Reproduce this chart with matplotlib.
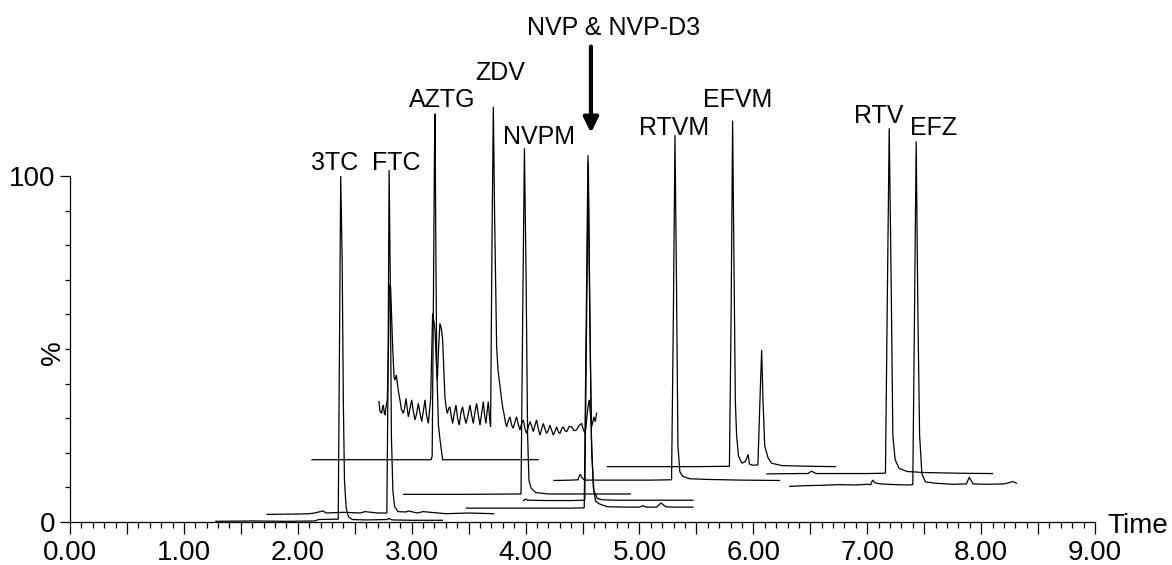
import matplotlib
matplotlib.use("Agg")
import matplotlib.pyplot as plt
from matplotlib.ticker import MultipleLocator, FixedLocator, FuncFormatter

plt.rcParams['font.family'] = ['Liberation Sans', 'DejaVu Sans']

# ---------------- data (time in min, intensity in %) ----------------
t_3tc = [1.28, 1.60, 1.90, 2.15, 2.18, 2.30, 2.355, 2.366, 2.377, 2.390, 2.400, 2.410,
         2.425, 2.445, 2.48, 2.60, 2.78, 2.80, 2.83, 3.00, 3.27]
y_3tc = [0.2, 0.3, 0.2, 0.3, 0.7, 0.8, 0.8, 50, 100, 75, 35, 12,
         4, 1.5, 0.7, 0.6, 0.7, 1.0, 0.6, 0.5, 0.5]

t_ftc = [1.73, 2.00, 2.10, 2.15, 2.22, 2.25, 2.40, 2.55, 2.59, 2.70, 2.782, 2.792, 2.802,
         2.812, 2.822, 2.835, 2.85, 2.88, 2.95, 2.97, 3.05, 3.10, 3.30, 3.50, 3.72]
y_ftc = [2.2, 2.3, 2.4, 2.6, 3.2, 2.6, 2.8, 2.6, 3.0, 2.6, 2.6, 40, 101.7,
         70, 25, 9, 4.5, 3.0, 2.9, 3.2, 2.6, 3.0, 2.4, 2.6, 2.4]

t_aztg = [2.125, 3.170, 3.180, 3.190, 3.200, 3.205, 3.212, 3.220, 3.235, 3.250, 3.262, 3.272, 4.11]
y_aztg = [18.0, 18.0, 19.0, 60, 106, 118, 80, 45, 28, 23.5, 20.5, 18.0, 18.0]

t_zdv = [2.713, 2.722, 2.736, 2.744, 2.751, 2.760, 2.766, 2.776, 2.786, 2.796, 2.804, 2.815,
         2.825, 2.833, 2.845, 2.853, 2.865, 2.874, 2.885, 2.897, 2.910, 2.927, 2.938, 2.950,
         2.960, 2.971, 2.985, 3.000, 3.012, 3.029, 3.043, 3.058, 3.070, 3.088, 3.100, 3.117,
         3.130, 3.146, 3.156, 3.167, 3.184, 3.195, 3.205, 3.215, 3.225, 3.236, 3.248, 3.260,
         3.272, 3.282, 3.292, 3.303, 3.313, 3.325, 3.336, 3.348, 3.360, 3.372, 3.389, 3.403,
         3.418, 3.432, 3.447, 3.462, 3.477, 3.495, 3.512, 3.527, 3.541, 3.556, 3.570, 3.585,
         3.600, 3.615, 3.629, 3.640, 3.652, 3.663, 3.673, 3.684, 3.693, 3.705, 3.717, 3.728,
         3.746, 3.758, 3.769, 3.780, 3.790, 3.800, 3.810, 3.822, 3.834, 3.848, 3.863, 3.878,
         3.892, 3.906, 3.921, 3.936, 3.951, 3.965, 3.980, 3.995, 4.009, 4.024, 4.039, 4.053,
         4.068, 4.082, 4.097, 4.112, 4.126, 4.141, 4.156, 4.170, 4.185, 4.200, 4.214, 4.230,
         4.244, 4.258, 4.273, 4.288, 4.302, 4.317, 4.331, 4.346, 4.361, 4.383, 4.405, 4.426,
         4.448, 4.470, 4.492, 4.507, 4.522, 4.532, 4.542, 4.551, 4.560, 4.570, 4.580, 4.590,
         4.600, 4.612, 4.624]
y_zdv = [34.8, 32.0, 31.4, 33.0, 33.8, 31.5, 30.9, 33.5, 35.3, 50.0, 68.5, 68.0,
         58.0, 50.7, 42.0, 41.0, 42.5, 40.1, 37.5, 35.3, 32.5, 31.4, 33.0, 35.7,
         33.0, 30.4, 32.8, 35.3, 32.5, 29.5, 31.2, 34.3, 32.0, 29.0, 31.5, 35.3,
         31.0, 28.5, 31.8, 35.7, 60.3, 58.0, 55.5, 47.0, 41.0, 50.0, 57.4, 56.0,
         52.6, 44.0, 36.2, 33.0, 31.4, 32.8, 33.3, 30.5, 28.5, 31.0, 33.8, 30.0,
         28.0, 31.5, 33.3, 30.5, 28.5, 31.0, 33.8, 30.8, 28.5, 31.8, 34.3, 31.0,
         28.0, 31.5, 34.8, 31.0, 28.5, 32.0, 34.8, 30.0, 27.5, 79.6, 120.0, 89.2,
         50.7, 44.0, 41.0, 38.0, 35.3, 33.0, 31.4, 29.0, 27.5, 29.2, 30.4, 28.0,
         27.1, 28.8, 30.4, 28.2, 26.6, 28.5, 29.5, 27.0, 25.6, 27.5, 29.0, 27.8,
         26.1, 27.9, 29.5, 27.0, 25.1, 26.8, 28.5, 26.9, 25.6, 26.5, 28.0, 26.4,
         25.1, 26.2, 27.5, 26.0, 25.6, 26.9, 27.5, 26.4, 26.1, 27.6, 27.5, 26.4,
         26.6, 27.9, 28.5, 26.8, 25.6, 28.0, 31.4, 34.0, 35.3, 31.0, 27.5, 28.8,
         30.4, 29.0, 31.4]

t_nvpm = [2.93, 3.50, 3.960, 3.975, 3.990, 4.005, 4.018, 4.030, 4.05, 4.09, 4.20, 4.92]
y_nvpm = [8.0, 8.0, 8.1, 60, 108, 70, 25, 12, 9.7, 8.5, 8.1, 8.1]

t_nvp = [3.98, 4.00, 4.02, 4.20, 4.40, 4.52, 4.535, 4.551, 4.565, 4.58, 4.60, 4.63,
         4.68, 4.80, 5.00, 5.20, 5.47]
y_nvp = [6.2, 6.6, 6.3, 6.2, 6.2, 6.3, 55, 104, 60, 20, 9, 6.8,
         6.4, 6.3, 6.3, 6.3, 6.3]

t_nvpd3 = [3.48, 3.80, 4.10, 4.40, 4.515, 4.530, 4.548, 4.562, 4.578, 4.595, 4.615, 4.65,
           4.72, 4.90, 5.00, 5.03, 5.06, 5.15, 5.19, 5.23, 5.30, 5.47]
y_nvpd3 = [4.0, 4.0, 4.0, 4.0, 4.1, 50, 106, 65, 25, 10, 6.0, 5.2,
           4.4, 4.3, 4.3, 4.7, 4.3, 4.3, 5.5, 4.4, 4.3, 4.3]

t_rtvm = [4.25, 4.40, 4.46, 4.478, 4.50, 4.52, 4.80, 5.10, 5.282, 5.298, 5.312, 5.325,
          5.338, 5.355, 5.38, 5.44, 5.60, 5.90, 6.23]
y_rtvm = [12.0, 12.1, 12.2, 13.8, 12.6, 12.1, 12.1, 12.1, 12.2, 60, 111.8, 70,
          22, 14.5, 13.2, 12.5, 12.3, 12.1, 12.0]

t_efvm = [4.72, 5.00, 5.50, 5.790, 5.805, 5.818, 5.830, 5.842, 5.853, 5.87, 5.90, 5.93,
          5.955, 5.965, 5.99, 6.04, 6.058, 6.073, 6.085, 6.10, 6.13, 6.16, 6.25, 6.50, 6.72]
y_efvm = [16.0, 16.0, 16.0, 16.1, 60, 116, 75, 35, 25, 19, 17.0, 17.5,
          19.5, 16.8, 16.4, 16.5, 35, 49.7, 35, 22, 18.5, 17.0, 16.3, 16.1, 16.0]

t_rtv = [6.12, 6.40, 6.48, 6.51, 6.55, 6.80, 7.00, 7.16, 7.175, 7.193, 7.210, 7.225,
         7.245, 7.28, 7.35, 7.50, 7.80, 8.10]
y_rtv = [13.9, 14.0, 14.0, 14.7, 14.0, 14.0, 14.0, 14.1, 60, 113.8, 70, 25,
         18, 15.5, 14.6, 14.3, 14.1, 14.0]

t_efz = [6.32, 6.45, 6.60, 6.75, 6.90, 7.00, 7.03, 7.047, 7.07, 7.12, 7.25, 7.35, 7.40,
         7.412, 7.43, 7.445, 7.46, 7.48, 7.51, 7.60, 7.75, 7.87, 7.896, 7.93, 8.05, 8.20,
         8.28, 8.31]
y_efz = [10.3, 10.5, 10.6, 10.8, 10.7, 10.9, 10.8, 12.1, 11.3, 11.0, 10.8, 10.7, 10.8,
         50, 110, 60, 25, 14, 11.6, 11.2, 10.9, 11.0, 12.9, 11.0, 10.9, 11.0, 11.7, 11.2]

peak_labels = ["3TC", "FTC", "AZTG", "ZDV", "NVPM", "RTVM", "EFVM", "RTV", "EFZ"]
arrow_label = "NVP & NVP-D3"
x_ticks = [0, 1, 2, 3, 4, 5, 6, 7, 8, 9]
y_ticks = [0, 100]
y_minor = [10, 20, 30, 40, 50, 60, 70, 80, 90]

# ---------------- figure ----------------
W, H = 1172, 565
fig = plt.figure(figsize=(W / 100, H / 100), dpi=100)
x0_px, x9_px, y0_px, y100_px = 70, 1095, 522, 176
ppu = (y0_px - y100_px) / 100.0
ax = fig.add_axes([x0_px / W, (H - y0_px) / H, (x9_px - x0_px) / W, y0_px / H])
ax.set_xlim(0, 9)
ax.set_ylim(0, y0_px / ppu)

traces = [(t_3tc, y_3tc), (t_ftc, y_ftc), (t_aztg, y_aztg), (t_zdv, y_zdv),
          (t_nvpm, y_nvpm), (t_nvp, y_nvp), (t_nvpd3, y_nvpd3), (t_rtvm, y_rtvm),
          (t_efvm, y_efvm), (t_rtv, y_rtv), (t_efz, y_efz)]
for tt, yy in traces:
    ax.plot(tt, yy, color='black', lw=0.9, solid_joinstyle='miter')

# spines
for s in ('top', 'right'):
    ax.spines[s].set_visible(False)
ax.spines['left'].set_bounds(0, 100)
ax.spines['bottom'].set_bounds(0, 9)
for s in ('left', 'bottom'):
    ax.spines[s].set_linewidth(0.9)

# ticks
ax.xaxis.set_major_locator(MultipleLocator(0.5))
ax.xaxis.set_minor_locator(MultipleLocator(0.1))
ax.xaxis.set_major_formatter(FuncFormatter(
    lambda v, p: ("%.2f" % v) if abs(v - round(v)) < 1e-6 and int(round(v)) in x_ticks else ""))
ax.yaxis.set_major_locator(FixedLocator(y_ticks))
ax.yaxis.set_minor_locator(FixedLocator(y_minor))
ax.tick_params(axis='x', which='major', direction='out', length=8.6, width=0.9,
               labelsize=20, pad=4)
ax.tick_params(axis='x', which='minor', direction='out', length=4.3, width=0.9)
ax.tick_params(axis='y', which='major', direction='out', length=7.2, width=0.9,
               labelsize=20, pad=3)
ax.tick_params(axis='y', which='minor', direction='out', length=3.6, width=0.9)

ax.text(-0.0165, 49, "%", rotation=90, fontsize=20, ha='center', va='center',
        transform=ax.get_yaxis_transform(), clip_on=False)
ax.text(9.11, -1.3, "Time", fontsize=20, ha='left', va='center', clip_on=False)

# peak labels (x, baseline y)
label_pos = [(2.32, 101.7), (2.862, 101.7), (3.27, 120.0), (3.775, 127.7), (4.12, 109.2),
             (5.30, 111.8), (5.86, 120.0), (7.10, 115.2), (7.58, 111.8)]
for name, (lx, ly) in zip(peak_labels, label_pos):
    ax.text(lx, ly, name, fontsize=18, ha='center', va='baseline', clip_on=False)

ax.text(4.77, 140.8, arrow_label, fontsize=18, ha='center', va='baseline', clip_on=False)
ax.annotate('', xy=(4.574, 112.5), xytext=(4.574, 137.4),
            arrowprops=dict(arrowstyle='-|>,head_length=0.9,head_width=0.45',
                            lw=3, color='black', shrinkA=0, shrinkB=0,
                            mutation_scale=10))

fig.savefig("out.png", dpi=100)
